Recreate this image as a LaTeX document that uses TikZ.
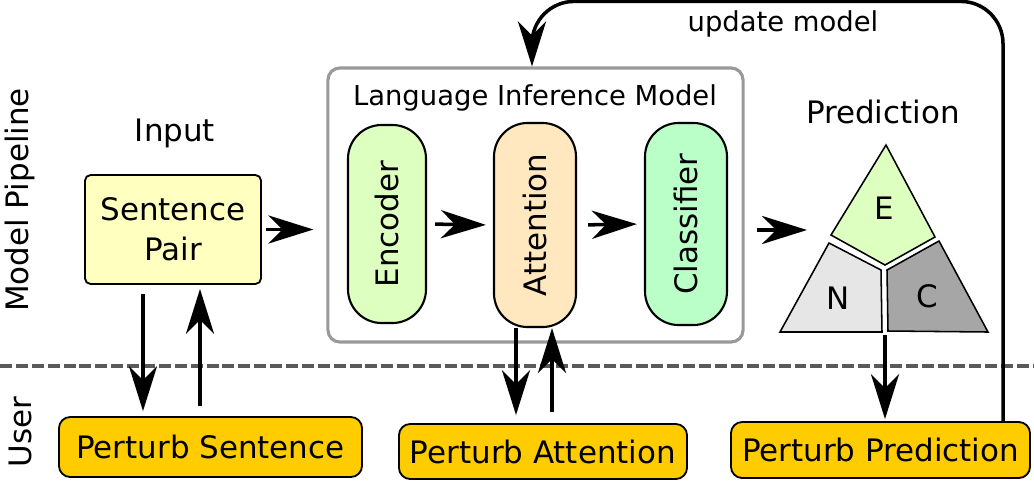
\documentclass[tikz,border=0pt]{standalone}
\usepackage{fontspec}
\setmainfont{DejaVu Sans}
\usepackage{graphicx}
\usepackage{tikz}
\usetikzlibrary{shapes,arrows.meta,calc}
\definecolor{pairyellow}{HTML}{FFFFC0}
\definecolor{encgreen}{HTML}{DDFFC0}
\definecolor{attorange}{HTML}{FFE8C0}
\definecolor{clsgreen}{HTML}{BAFFC8}
\definecolor{useryellow}{HTML}{FFCC00}
\definecolor{modelgray}{HTML}{999999}
\definecolor{dashgray}{HTML}{595959}
\definecolor{ngray}{HTML}{E6E6E6}
\definecolor{cgray}{HTML}{A6A6A6}
\newcommand{\bigfont}{\fontsize{22}{28.5}\selectfont}
\newcommand{\smallfont}{\fontsize{19.5}{24}\selectfont}
\tikzset{
  flow/.style={-{Stealth[length=32pt,width=20pt,inset=10pt]}, line width=2.5pt},
  modulestyle/.style={draw, line width=1.5pt, rounded corners=24pt, font=\bigfont},
  userstyle/.style={draw, line width=1.3pt, rounded corners=8pt, fill=useryellow, font=\bigfont},
  classpart/.style={draw, line width=1.1pt},
  sepline/.style={draw=dashgray, line width=2.4pt, dash pattern=on 8.5pt off 2.8pt}
}
\newcommand{\modulebox}[5] {\node at (#1) (#2) [modulestyle, fill=#3, minimum width=#4cm, minimum height=#5cm] {\rotatebox{90}{#2}};}
\newcommand{\userbox}[5] {\node at (#1) (#2) [userstyle, minimum width=#3cm, minimum height=#4cm] {#5};}
\newcommand{\sidelabel}[2] {\node at (#1) [rotate=90, font=\bigfont] {#2};}

\begin{document}
\begin{tikzpicture}[x=0.025cm, y=-0.025cm]
\useasboundingbox (0,0) rectangle (1034,483);

\sidelabel {20,200} {Model Pipeline};
\sidelabel {20,432} {User};

\coordinate (sepleft) at (0,366);
\coordinate (sepright) at (1034,366);
\draw [sepline] (sepleft) -- (sepright);

\node at (175,133) (input) [font=\bigfont] {Input};
\node at (173,229.5) (pair) [draw, line width=1.3pt, rounded corners=4pt, fill=pairyellow,
  minimum width=4.4cm, minimum height=2.725cm, align=center, font=\bigfont] {Sentence\\Pair};

\node at (535.5,205) (lim) [draw=modelgray, line width=2.2pt, rounded corners=8.5pt,
  minimum width=10.375cm, minimum height=6.85cm] {};
\node at (535,98) (limtitle) [font=\smallfont] {Language Inference Model};
\modulebox {387,224} {Encoder} {encgreen} {1.95} {4.95};
\modulebox {535,225} {Attention} {attorange} {2.05} {5.1};
\modulebox {686,224} {Classifier} {clsgreen} {2.05} {5.05};

\node at (883,112) (prediction) [font=\bigfont] {Prediction};
\draw [classpart, fill=encgreen] (886,145) -- (935,237) -- (885,265) -- (831,235) -- cycle;
\draw [classpart, fill=ngray] (829,243) -- (881,270) -- (882,332) -- (780,332) -- cycle;
\draw [classpart, fill=cgray] (939,241) -- (988,332) -- (888,331) -- (887,270) -- cycle;
\node at (884,208) (E) [font=\bigfont] {E};
\node at (838,298) (N) [font=\bigfont] {N};
\node at (927,296) (C) [font=\bigfont] {C};
\coordinate (predin) at (807,230);
\coordinate (tribottom) at (885,332);

\userbox {210.5,447} {psent} {7.575} {1.5} {Perturb Sentence};
\userbox {543,451.5} {patt} {7.2} {1.375} {Perturb Attention};
\userbox {880.5,450} {ppred} {7.475} {1.4} {Perturb Prediction};

\draw [flow, shorten <=0.1cm, shorten >=0.325cm] (pair.east) -- (pair.east -| lim.west);
\draw [flow, shorten <=0.2cm, shorten >=0.175cm] (Encoder.east) -- (Attention.west);
\draw [flow, shorten <=0.275cm, shorten >=0.175cm] (Attention.east) -- (Classifier.west);
\draw [flow, shorten <=0.3cm] (lim.east |- predin) -- (predin);

\draw [flow] ($(pair.south)+(-30,9)$) -- ($(pair.south |- psent.north)+(-30,-5)$);
\draw [flow] ($(pair.south |- psent.north)+(27,-10)$) -- ($(pair.south)+(27,4)$);
\draw [flow] ($(Attention.south)+(-19,0)$) -- ($(Attention.south |- patt.north)+(-19,-8)$);
\draw [flow] ($(Attention.south |- patt.north)+(17,-11)$) -- ($(Attention.south)+(17,0)$);
\draw [flow, shorten <=0.075cm, shorten >=0.05cm] (tribottom) -- (tribottom |- ppred.north);

\draw [flow, rounded corners=30pt] ($(ppred.north)+(122.5,0)$) |- ($(lim.north)+(-3.5,-65)$) -- ($(lim.north)+(-3.5,0)$);
\node at (783,24) (update) [font=\smallfont] {update model};
\end{tikzpicture}
\end{document}
